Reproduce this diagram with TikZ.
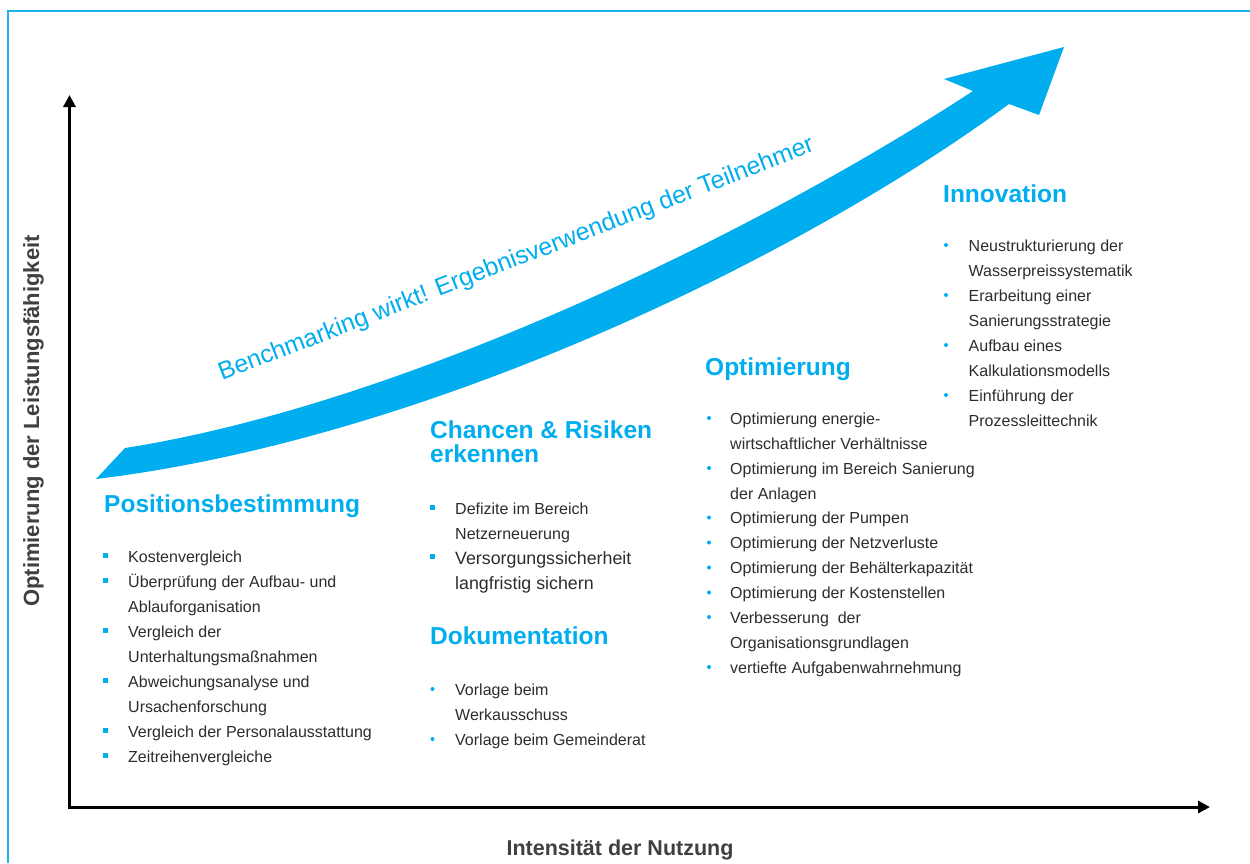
\documentclass[tikz,border=0pt]{standalone}
\usepackage{fontspec}
\setmainfont{Liberation Sans}
\usetikzlibrary{arrows.meta}
\definecolor{cblue}{RGB}{0,174,239}
\definecolor{bordblue}{RGB}{30,180,235}
\definecolor{txt}{RGB}{45,45,45}
\definecolor{axtxt}{RGB}{64,64,64}
\begin{document}
\begin{tikzpicture}[x=1pt,y=-1pt,
  ttl/.style={anchor=base west, inner sep=0, text=cblue, font=\fontsize{24.5}{26}\selectfont\bfseries},
  itm/.style={anchor=base west, inner sep=0, text=txt, font=\fontsize{16}{19}\selectfont},
  bigitm/.style={anchor=base west, inner sep=0, text=txt, font=\fontsize{17.8}{21}\selectfont},
  axislbl/.style={inner sep=0, anchor=base, text=axtxt, font=\fontsize{21.5}{24}\selectfont\bfseries},
  axisline/.style={line width=3pt, line join=miter, {Triangle[length=12pt,width=12pt]}-{Triangle[length=12pt,width=12pt]}},
  sqbullet/.style={fill=cblue},
  dotbullet/.style={fill=cblue}
]
\useasboundingbox (0,0) rectangle (1250,863);
\fill[white] (0,0) rectangle (1250,863);
\draw[bordblue, line width=2pt] (8,863) -- (8,11) -- (1250,11);

% axes
\coordinate (Ytip) at (69.5,95);
\coordinate (Xtip) at (1210,807);
\draw[axisline] (Ytip) |- (Xtip);
\node[axislbl, rotate=90, font=\fontsize{22}{24}\selectfont\bfseries] (ylab) at (39,421) {Optimierung der Leistungsfähigkeit};
\node[axislbl] (xlab) at (620,855) {Intensität der Nutzung};

% big curved arrow
\fill[cblue] (96,479) .. controls (426,439) and (800,258) .. (1009,104)
  -- (1039,115) -- (1064,47) -- (944,79) -- (973,91)
  .. controls (753,235) and (400,405) .. (125,448) -- cycle;
\node[rotate=21.2, anchor=base west, inner sep=0, text=cblue, font=\fontsize{24.8}{26}\selectfont] (bm) at (222,381) {Benchmarking wirkt! Ergebnisverwendung der Teilnehmer};

% Positionsbestimmung
\node[ttl] (t1) at (104,512) {Positionsbestimmung};
\foreach \y/\b/\t [count=\i] in {562.5/1/{Kostenvergleich}, 587.5/1/{Überprüfung der Aufbau- und}, 612.5/0/{Ablauforganisation}, 637.5/1/{Vergleich der}, 662/0/{Unterhaltungsmaßnahmen}, 687/1/{Abweichungsanalyse und}, 712/0/{Ursachenforschung}, 737/1/{Vergleich der Personalausstattung}, 762/1/{Zeitreihenvergleiche}}{
  \ifnum\b=1 \fill[sqbullet] (103,\y-9.5) rectangle (108,\y-4.5);\fi
  \node[itm] (p\i) at (128,\y) {\t};
}

% Chancen & Risiken
\node[ttl] (t2a) at (430,438) {Chancen \& Risiken};
\node[ttl] (t2b) at (430,462) {erkennen};
\fill[sqbullet] (430,514-9.5) rectangle (435,514-4.5);
\node[itm] (c1) at (455,514) {Defizite im Bereich};
\node[itm] (c2) at (455,539) {Netzerneuerung};
\fill[sqbullet] (430,564-10) rectangle (435,564-5);
\node[bigitm] (c3) at (455,564) {Versorgungssicherheit};
\node[bigitm] (c4) at (455,589) {langfristig sichern};

% Dokumentation
\node[ttl] (t3) at (430,644.5) {Dokumentation};
\foreach \y/\b/\t [count=\i] in {695/1/{Vorlage beim}, 720/0/{Werkausschuss}, 745/1/{Vorlage beim Gemeinderat}}{
  \ifnum\b=1 \fill[dotbullet] (432.5,\y-6) circle (2);\fi
  \node[itm] (d\i) at (455,\y) {\t};
}

% Optimierung
\node[ttl] (t4) at (705,375) {Optimierung};
\foreach \y/\b/\t [count=\i] in {424/1/{Optimierung energie-}, 449/0/{wirtschaftlicher Verhältnisse}, 474/1/{Optimierung im Bereich Sanierung}, 499/0/{der Anlagen}, 523.5/1/{Optimierung der Pumpen}, 548.5/1/{Optimierung der Netzverluste}, 573.5/1/{Optimierung der Behälterkapazität}, 598.5/1/{Optimierung der Kostenstellen}, 623/1/{Verbesserung\ \ der}, 648/0/{Organisationsgrundlagen}, 673/1/{vertiefte Aufgabenwahrnehmung}}{
  \ifnum\b=1 \fill[dotbullet] (709,\y-6) circle (2);\fi
  \node[itm] (o\i) at (730,\y) {\t};
}

% Innovation
\node[ttl] (t5) at (943,202.5) {Innovation};
\foreach \y/\b/\t [count=\i] in {251/1/{Neustrukturierung der}, 276/0/{Wasserpreissystematik}, 301/1/{Erarbeitung einer}, 326/0/{Sanierungsstrategie}, 351/1/{Aufbau eines}, 376/0/{Kalkulationsmodells}, 401/1/{Einführung der}, 426/0/{Prozessleittechnik}}{
  \ifnum\b=1 \fill[dotbullet] (946,\y-6) circle (2);\fi
  \node[itm] (n\i) at (968.5,\y) {\t};
}
\end{tikzpicture}
\end{document}
